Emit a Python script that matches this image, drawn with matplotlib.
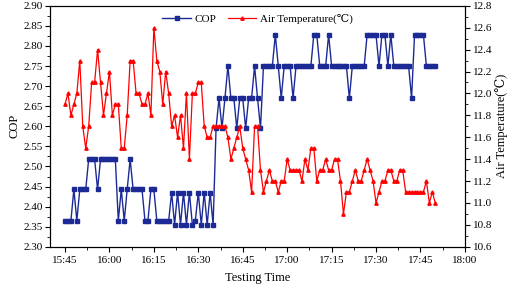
import numpy as np
import matplotlib
matplotlib.use("Agg")
import matplotlib.pyplot as plt
from matplotlib.ticker import MultipleLocator, FormatStrFormatter

plt.rcParams['font.family'] = ['Liberation Serif', 'DejaVu Serif']

# minutes after 15:45, one reading per minute
minutes = np.arange(126)

cop = [2.365, 2.365, 2.365, 2.443, 2.365, 2.443, 2.443, 2.443, 2.518, 2.518,
       2.518, 2.443, 2.518, 2.518, 2.518, 2.518, 2.518, 2.518, 2.365, 2.443,
       2.365, 2.443, 2.518, 2.443, 2.443, 2.443, 2.443, 2.365, 2.365, 2.443,
       2.443, 2.365, 2.365, 2.365, 2.365, 2.365, 2.435, 2.355, 2.435, 2.355,
       2.435, 2.355, 2.435, 2.355, 2.365, 2.435, 2.355, 2.435, 2.355, 2.435,
       2.355, 2.595, 2.670, 2.595, 2.670, 2.750, 2.670, 2.670, 2.595, 2.670,
       2.670, 2.595, 2.670, 2.670, 2.750, 2.670, 2.595, 2.750, 2.750, 2.750,
       2.750, 2.828, 2.750, 2.670, 2.750, 2.750, 2.750, 2.670, 2.750, 2.750,
       2.750, 2.750, 2.750, 2.750, 2.828, 2.828, 2.750, 2.750, 2.750, 2.828,
       2.750, 2.750, 2.750, 2.750, 2.750, 2.750, 2.670, 2.750, 2.750, 2.750,
       2.750, 2.750, 2.828, 2.828, 2.828, 2.828, 2.750, 2.828, 2.828, 2.750,
       2.828, 2.750, 2.750, 2.750, 2.750, 2.750, 2.750, 2.670, 2.828, 2.828,
       2.828, 2.828, 2.750, 2.750, 2.750, 2.750]

air_temp = [11.9, 12.0, 11.8, 11.9, 12.0, 12.3, 11.7, 11.5, 11.7, 12.1,
            12.1, 12.4, 12.1, 11.8, 12.0, 12.2, 11.8, 11.9, 11.9, 11.5,
            11.5, 11.8, 12.3, 12.3, 12.0, 12.0, 11.9, 11.9, 12.0, 11.8,
            12.6, 12.3, 12.2, 11.9, 12.2, 12.0, 11.7, 11.8, 11.6, 11.8,
            11.5, 12.0, 11.4, 12.0, 12.0, 12.1, 12.1, 11.7, 11.6, 11.6,
            11.7, 11.7, 11.7, 11.7, 11.7, 11.6, 11.4, 11.5, 11.6, 11.7,
            11.5, 11.4, 11.3, 11.1, 11.7, 11.7, 11.3, 11.1, 11.2, 11.3,
            11.2, 11.2, 11.1, 11.2, 11.2, 11.4, 11.3, 11.3, 11.3, 11.3,
            11.2, 11.4, 11.3, 11.5, 11.5, 11.2, 11.3, 11.3, 11.4, 11.3,
            11.3, 11.4, 11.4, 11.2, 10.9, 11.1, 11.1, 11.2, 11.3, 11.2,
            11.2, 11.3, 11.4, 11.3, 11.2, 11.0, 11.1, 11.2, 11.2, 11.3,
            11.3, 11.2, 11.2, 11.3, 11.3, 11.1, 11.1, 11.1, 11.1, 11.1,
            11.1, 11.1, 11.2, 11.0, 11.1, 11.0]

tick_pos = [0, 15, 30, 45, 60, 75, 90, 105, 120, 135]
tick_labels = ['15:45', '16:00', '16:15', '16:30', '16:45', '17:00',
               '17:15', '17:30', '17:45', '18:00']

blue = '#1c2a96'
red = '#ff0000'
fs = 8

fig = plt.figure(figsize=(5.12, 2.89), dpi=100)
ax = fig.add_axes([0.098, 0.146, 0.810, 0.834])
ax2 = ax.twinx()

l1, = ax.plot(minutes, cop, '-s', color=blue, lw=1.0, ms=2.2, label='COP')
l2, = ax2.plot(minutes, air_temp, '-^', color=red, lw=0.9, ms=2.4,
               label='Air Temperature(\u2103)')

ax.set_xlim(-5, 135)
ax.set_ylim(2.30, 2.90)
ax2.set_ylim(10.6, 12.8)

ax.set_xticks(tick_pos)
ax.set_xticklabels(tick_labels)
ax.xaxis.set_minor_locator(MultipleLocator(7.5))
ax.yaxis.set_major_locator(MultipleLocator(0.05))
ax.yaxis.set_minor_locator(MultipleLocator(0.025))
ax.yaxis.set_major_formatter(FormatStrFormatter('%.2f'))
ax2.yaxis.set_major_locator(MultipleLocator(0.2))
ax2.yaxis.set_minor_locator(MultipleLocator(0.1))
ax2.yaxis.set_major_formatter(FormatStrFormatter('%.1f'))

for a in (ax, ax2):
    a.tick_params(which='major', direction='out', length=3.5, width=0.8,
                  labelsize=fs, pad=2)
    a.tick_params(which='minor', direction='out', length=2, width=0.6)
    for s in a.spines.values():
        s.set_linewidth(0.8)
ax.tick_params(axis='x', pad=3)

ax.set_xlabel('Testing Time', fontsize=9, labelpad=5)
ax.set_ylabel('COP', fontsize=9, labelpad=2)
ax2.set_ylabel('Air Temperature(\u2103)', fontsize=9, labelpad=2)

ax.legend(handles=[l1, l2], loc='upper center', ncol=2, frameon=False,
          fontsize=8, handlelength=2.6, columnspacing=1.0,
          handletextpad=0.3, borderaxespad=0.3, bbox_to_anchor=(0.5, 1.0))

fig.savefig('out.png', dpi=100)
